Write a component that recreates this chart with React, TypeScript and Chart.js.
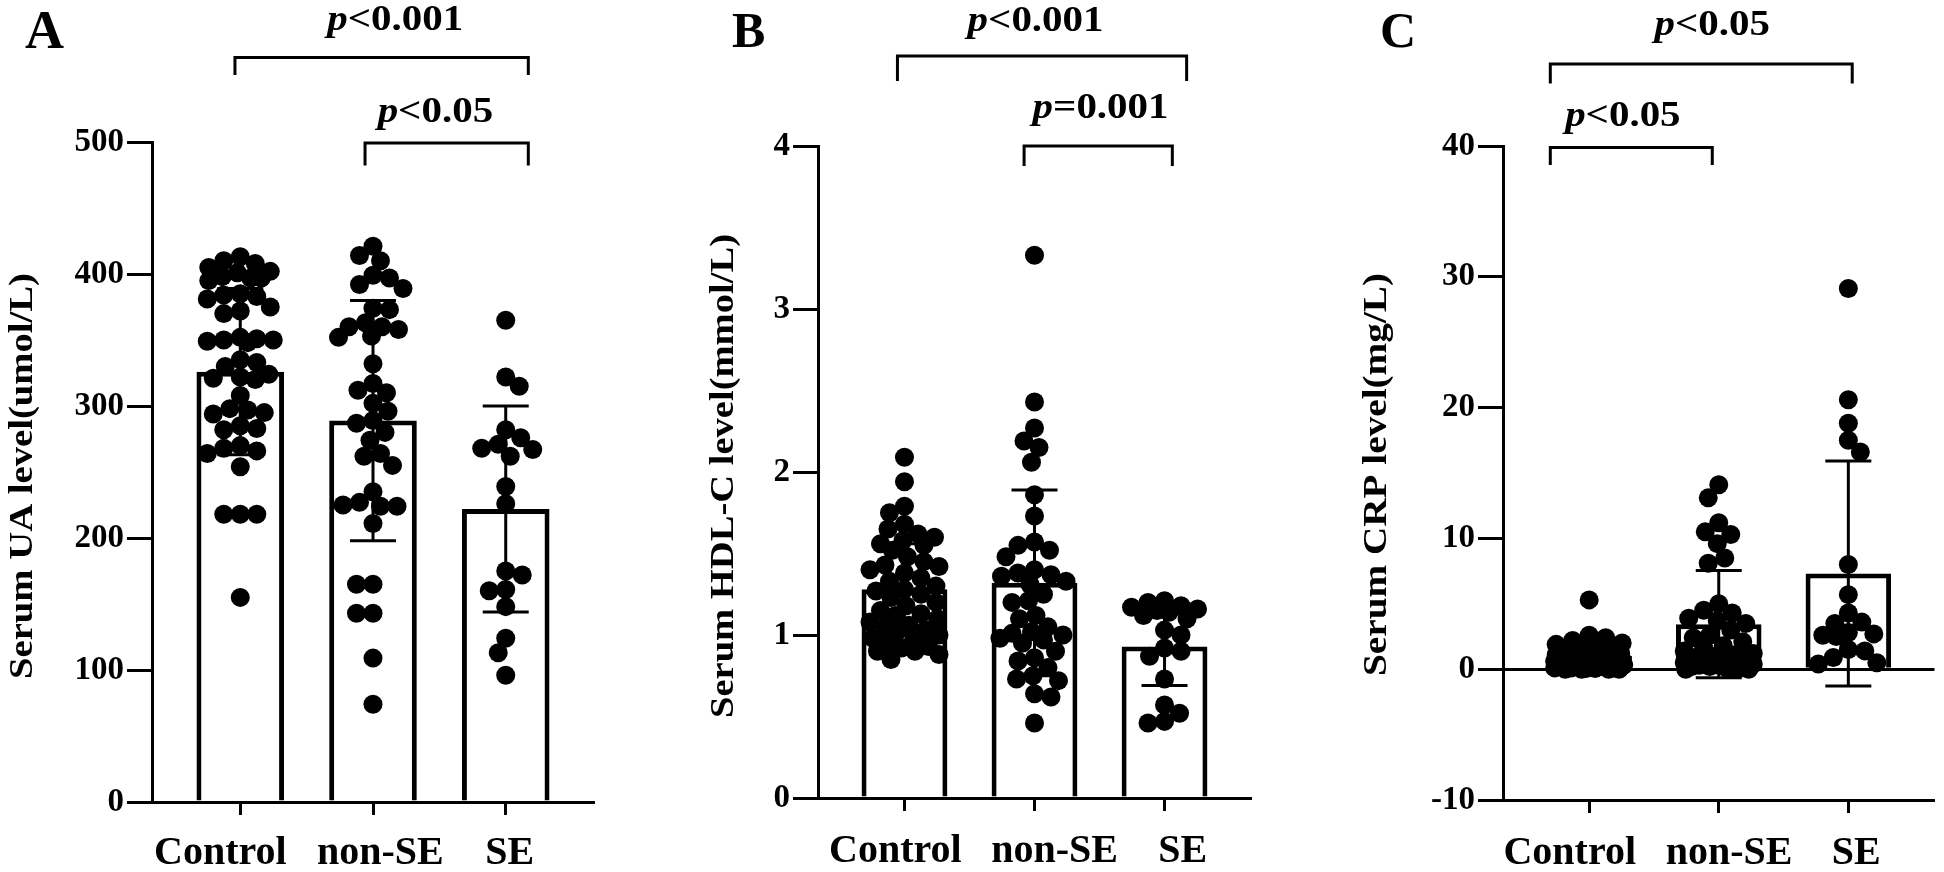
import React, { useEffect, useRef } from 'react';
import { Chart, registerables } from 'chart.js';

Chart.register(...registerables);

const FONT = "'Liberation Serif', 'Times New Roman', serif";

const categories = ['Control', 'non-SE', 'SE'];

// ---------- Panel A : Serum UA ----------
const uaControl = [413, 410, 408, 405, 402, 401, 398, 397, 397, 395, 385, 384, 383, 381, 375, 372, 370, 352, 351, 350, 350, 349, 348, 335, 333, 330, 324, 322, 321, 320, 308, 298, 297, 295, 294, 285, 283, 282, 270, 268, 266, 264, 254, 218, 218, 218, 155];
const uaNonSE = [421, 414, 410, 399, 397, 392, 389, 374, 373, 363, 360, 360, 358, 353, 352, 332, 317, 312, 310, 302, 296, 289, 287, 280, 274, 264, 262, 255, 235, 227, 224, 224, 225, 211, 165, 165, 143, 143, 109, 74];
const uaSE = [365, 322, 315, 282, 276, 271, 268, 267, 262, 239, 226, 175, 172, 161, 160, 148, 124, 113, 96];
const uaMean = [326, 289, 222];
const uaSD = [63, 91, 78];
const uaTicks = [0, 100, 200, 300, 400, 500];
const uaPLabels = ['<0.001', '<0.05'];

// ---------- Panel B : Serum HDL-C ----------
const hdlControl = [2.09, 1.94, 1.79, 1.75, 1.68, 1.65, 1.62, 1.6, 1.58, 1.56, 1.55, 1.52, 1.48, 1.45, 1.43, 1.42, 1.4, 1.38, 1.35, 1.33, 1.3, 1.28, 1.27, 1.25, 1.23, 1.2, 1.18, 1.15, 1.13, 1.12, 1.1, 1.08, 1.06, 1.05, 1.03, 1.02, 1.0, 0.98, 0.97, 0.95, 0.93, 0.92, 0.9, 0.9, 0.88, 0.85];
const hdlNonSE = [3.33, 2.43, 2.27, 2.19, 2.15, 2.06, 1.86, 1.73, 1.57, 1.55, 1.52, 1.48, 1.4, 1.38, 1.37, 1.36, 1.33, 1.31, 1.25, 1.21, 1.2, 1.12, 1.1, 1.05, 1.02, 1.01, 1.0, 0.98, 0.97, 0.95, 0.9, 0.86, 0.84, 0.8, 0.75, 0.73, 0.72, 0.64, 0.62, 0.46];
const hdlSE = [1.21, 1.2, 1.18, 1.17, 1.16, 1.15, 1.14, 1.12, 1.1, 1.03, 1.0, 0.92, 0.9, 0.87, 0.73, 0.57, 0.52, 0.47, 0.46];
const hdlMean = [1.28, 1.32, 0.93];
const hdlSD = [0.28, 0.57, 0.24];
const hdlTicks = [0, 1, 2, 3, 4];
const hdlPLabels = ['<0.001', '=0.001'];

// ---------- Panel C : Serum CRP ----------
const crpControl = [5.3, 2.6, 2.4, 2.2, 2.0, 1.9, 1.8, 1.6, 1.5, 1.4, 1.3, 1.2, 1.2, 1.1, 1.0, 1.0, 0.9, 0.9, 0.8, 0.8, 0.7, 0.7, 0.7, 0.6, 0.6, 0.6, 0.5, 0.5, 0.5, 0.4, 0.4, 0.4, 0.3, 0.3, 0.3, 0.2, 0.2, 0.2, 0.1, 0.1, 0.1, 0.05, 0.05, 0.0, 0.0, 0.0, 0.0];
const crpNonSE = [14.1, 13.1, 11.2, 10.5, 10.3, 9.6, 8.5, 8.1, 5.0, 4.5, 4.3, 3.9, 3.7, 3.5, 3.0, 2.6, 2.4, 2.1, 1.8, 1.6, 1.4, 1.2, 1.1, 1.0, 0.9, 0.8, 0.7, 0.6, 0.5, 0.4, 0.4, 0.3, 0.3, 0.2, 0.2, 0.1, 0.1, 0.0, 0.0, 0.0];
const crpSE = [29.1, 20.6, 18.8, 17.5, 16.6, 8.0, 5.7, 4.3, 3.6, 3.5, 2.8, 2.7, 2.6, 2.5, 1.5, 1.4, 0.9, 0.5, 0.4];
const crpMean = [1.0, 3.44, 7.32];
const crpSD = [1.0, 4.1, 8.6];
const crpTicks = [-10, 0, 10, 20, 30, 40];
const crpPLabels = ['<0.05', '<0.05'];

type Bracket = { from: number; to: number; y: number; drop: number; textX: number; textY: number };

type PanelCfg = {
  letter: string;
  title: string;
  groups: number[][];
  means: number[];
  sds: number[];
  ticks: number[];
  pLabels: string[];
  zeroLine: boolean;
  // layout / style (global pixel coordinates)
  canvasLeft: number;
  canvasWidth: number;
  area: { left: number; right: number; top: number; bottom: number };
  titleX: number;
  titleY: number;
  titleLen: number;
  letterX: number;
  letterY: number;
  letterSize: number;
  catLabelX: number[];
  catLabelY: number;
  brackets: Bracket[];
};

const H = 872;

const panels: PanelCfg[] = [
  {
    letter: 'A',
    title: 'Serum UA level(umol/L)',
    groups: [uaControl, uaNonSE, uaSE],
    means: uaMean,
    sds: uaSD,
    ticks: uaTicks,
    pLabels: uaPLabels,
    zeroLine: false,
    canvasLeft: 0,
    canvasWidth: 648,
    area: { left: 152, right: 594, top: 142, bottom: 802 },
    titleX: 31.5,
    titleY: 476,
    titleLen: 406,
    letterX: 25,
    letterY: 48,
    letterSize: 54,
    catLabelX: [-0.15, 1.055, 2.03],
    catLabelY: 864,
    brackets: [
      { from: -0.04, to: 2.17, y: 564, drop: 550.8, textX: 1.167, textY: 585 },
      { from: 0.94, to: 2.17, y: 499.2, drop: 482.2, textX: 1.47, textY: 515 },
    ],
  },
  {
    letter: 'B',
    title: 'Serum HDL-C level(mmol/L)',
    groups: [hdlControl, hdlNonSE, hdlSE],
    means: hdlMean,
    sds: hdlSD,
    ticks: hdlTicks,
    pLabels: hdlPLabels,
    zeroLine: false,
    canvasLeft: 648,
    canvasWidth: 648,
    area: { left: 818, right: 1251, top: 146, bottom: 798 },
    titleX: 733,
    titleY: 476,
    titleLen: 484,
    letterX: 732,
    letterY: 47,
    letterSize: 50,
    catLabelX: [-0.07, 1.155, 2.14],
    catLabelY: 862,
    brackets: [
      { from: -0.054, to: 2.17, y: 4.552, drop: 4.399, textX: 1.008, textY: 4.706 },
      { from: 0.92, to: 2.06, y: 4.0, drop: 3.877, textX: 1.508, textY: 4.172 },
    ],
  },
  {
    letter: 'C',
    title: 'Serum CRP level(mg/L)',
    groups: [crpControl, crpNonSE, crpSE],
    means: crpMean,
    sds: crpSD,
    ticks: crpTicks,
    pLabels: crpPLabels,
    zeroLine: true,
    canvasLeft: 1296,
    canvasWidth: 648,
    area: { left: 1503, right: 1938, top: 146, bottom: 800 },
    titleX: 1386,
    titleY: 474.5,
    titleLen: 403,
    letterX: 1380,
    letterY: 47,
    letterSize: 50,
    catLabelX: [-0.15, 1.08, 2.06],
    catLabelY: 864,
    brackets: [
      { from: -0.3, to: 2.03, y: 46.27, drop: 44.78, textX: 0.95, textY: 48.49 },
      { from: -0.3, to: 0.95, y: 39.89, drop: 38.55, textX: 0.26, textY: 41.53 },
    ],
  },
];

const decorPlugin = {
  id: 'decor',
  afterDatasetDraw(chart: any, args: any, o: any) {
    if (args.meta.type !== 'bar') return;
    const { ctx } = chart;
    const x = chart.scales.x;
    const y = chart.scales.y;
    ctx.save();
    ctx.strokeStyle = '#000';
    ctx.lineWidth = 3;
    ctx.lineCap = 'butt';
    o.means.forEach((m: number, i: number) => {
      const px = x.getPixelForValue(i);
      const top = y.getPixelForValue(m + o.sds[i]);
      const bot = y.getPixelForValue(m - o.sds[i]);
      const hw = 23;
      ctx.beginPath();
      ctx.moveTo(px, top);
      ctx.lineTo(px, bot);
      ctx.moveTo(px - hw, top);
      ctx.lineTo(px + hw, top);
      ctx.moveTo(px - hw, bot);
      ctx.lineTo(px + hw, bot);
      ctx.stroke();
    });
    ctx.restore();
  },
  afterDraw(chart: any, _args: any, o: any) {
    const { ctx } = chart;
    const x = chart.scales.x;
    const y = chart.scales.y;
    const cl = o.canvasLeft;
    ctx.save();
    ctx.fillStyle = '#000';
    ctx.strokeStyle = '#000';
    ctx.lineWidth = 3;
    ctx.lineJoin = 'miter';
    ctx.lineCap = 'butt';
    const pSize = 35;
    const pStretch = 1.17;
    o.brackets.forEach((b: Bracket, k: number) => {
      const x1 = x.getPixelForValue(b.from);
      const x2 = x.getPixelForValue(b.to);
      const yl = y.getPixelForValue(b.y);
      const yd = y.getPixelForValue(b.drop);
      ctx.beginPath();
      ctx.moveTo(x1, yd);
      ctx.lineTo(x1, yl);
      ctx.lineTo(x2, yl);
      ctx.lineTo(x2, yd);
      ctx.stroke();
      const label = o.pLabels[k];
      const cx = x.getPixelForValue(b.textX);
      const by = y.getPixelForValue(b.textY);
      ctx.font = `italic bold ${pSize}px ${FONT}`;
      const w1 = ctx.measureText('p').width;
      ctx.font = `bold ${pSize}px ${FONT}`;
      const w2 = ctx.measureText(label).width;
      ctx.save();
      ctx.translate(cx - ((w1 + w2) * pStretch) / 2, by);
      ctx.scale(pStretch, 1);
      ctx.textAlign = 'left';
      ctx.textBaseline = 'alphabetic';
      ctx.font = `italic bold ${pSize}px ${FONT}`;
      ctx.fillText('p', 0, 0);
      ctx.font = `bold ${pSize}px ${FONT}`;
      ctx.fillText(label, w1, 0);
      ctx.restore();
    });
    // category labels
    ctx.font = `bold 40px ${FONT}`;
    ctx.textAlign = 'center';
    ctx.textBaseline = 'alphabetic';
    o.categories.forEach((c: string, i: number) => {
      ctx.fillText(c, x.getPixelForValue(o.catLabelX[i]), o.catLabelY);
    });
    // y-axis title
    ctx.save();
    ctx.font = `bold 33px ${FONT}`;
    const tw = ctx.measureText(o.title).width;
    ctx.translate(o.titleX - cl, o.titleY);
    ctx.rotate(-Math.PI / 2);
    ctx.scale(o.titleLen / tw, 1);
    ctx.textAlign = 'center';
    ctx.textBaseline = 'alphabetic';
    ctx.fillText(o.title, 0, 0);
    ctx.restore();
    // panel letter
    ctx.font = `bold ${o.letterSize}px ${FONT}`;
    ctx.textAlign = 'left';
    ctx.textBaseline = 'alphabetic';
    ctx.fillText(o.letter, o.letterX - cl, o.letterY);
    ctx.restore();
  },
};

function swarm(chart: any, groups: number[][]) {
  const xs = chart.scales.x;
  const ys = chart.scales.y;
  const unit = xs.getPixelForValue(1) - xs.getPixelForValue(0);
  const minDist = 16;
  const step = 1.5;
  const maxOff = 35;
  const out: { x: number; y: number }[] = [];
  groups.forEach((vals, gi) => {
    const placed: { dx: number; py: number }[] = [];
    vals.forEach((v, n) => {
      const py = ys.getPixelForValue(v);
      let chosen: number | null = null;
      let best = 0;
      let bestScore = -1;
      const first = n % 2 === 0 ? 1 : -1;
      for (let k = 0; k * step <= maxOff && chosen === null; k++) {
        const signs = k === 0 ? [1] : [first, -first];
        for (const s of signs) {
          const dx = s * k * step;
          let dmin = Infinity;
          for (const p of placed) {
            const d = Math.hypot(p.dx - dx, p.py - py);
            if (d < dmin) dmin = d;
          }
          if (dmin >= minDist) {
            chosen = dx;
            break;
          }
          if (dmin > bestScore + 0.5) {
            bestScore = dmin;
            best = dx;
          }
        }
      }
      const dx = chosen === null ? best : chosen;
      placed.push({ dx, py });
      out.push({ x: gi + dx / unit, y: v });
    });
  });
  return out;
}

function Panel({ cfg }: { cfg: PanelCfg }) {
  const ref = useRef<HTMLCanvasElement>(null);
  useEffect(() => {
    const canvas = ref.current;
    if (!canvas) return;
    const a = cfg.area;
    const initialPoints = cfg.groups.flatMap((vals, gi) => vals.map((v) => ({ x: gi, y: v })));
    const chart = new Chart(canvas, {
      type: 'bar',
      data: {
        datasets: [
          {
            type: 'scatter',
            data: initialPoints,
            pointRadius: 9.5,
            pointHoverRadius: 9.5,
            pointBackgroundColor: '#000',
            pointBorderWidth: 0,
            pointBorderColor: '#000',
          } as any,
          {
            type: 'bar',
            data: cfg.means.map((m, i) => ({ x: i, y: m })),
            backgroundColor: '#fff',
            borderColor: '#000',
            borderWidth: 5,
            borderSkipped: 'start',
            barPercentage: 0.66,
            categoryPercentage: 1,
          } as any,
        ],
      },
      options: {
        responsive: false,
        maintainAspectRatio: false,
        devicePixelRatio: 1,
        animation: false,
        events: [],
        layout: {
          padding: {
            left: 0,
            top: a.top,
            right: cfg.canvasLeft + cfg.canvasWidth - a.right,
            bottom: 0,
          },
        },
        plugins: {
          legend: { display: false },
          tooltip: { enabled: false },
          decor: {
            canvasLeft: cfg.canvasLeft,
            means: cfg.means,
            sds: cfg.sds,
            pLabels: cfg.pLabels,
            brackets: cfg.brackets,
            title: cfg.title,
            titleX: cfg.titleX,
            titleY: cfg.titleY,
            titleLen: cfg.titleLen,
            letter: cfg.letter,
            letterX: cfg.letterX,
            letterY: cfg.letterY,
            letterSize: cfg.letterSize,
            categories,
            catLabelX: cfg.catLabelX,
            catLabelY: cfg.catLabelY,
          },
        } as any,
        scales: {
          x: {
            type: 'linear',
            min: -0.665,
            max: 2.665,
            offset: false,
            afterBuildTicks: (s: any) => {
              s.ticks = categories.map((_, i) => ({ value: i }));
            },
            afterFit: (s: any) => {
              s.height = H - a.bottom;
            },
            ticks: {
              display: false,
              autoSkip: false,
              maxRotation: 0,
              callback: (v: any) => categories[Math.round(Number(v))] ?? '',
            },
            grid: {
              offset: false,
              drawOnChartArea: false,
              drawTicks: true,
              tickLength: 13,
              tickWidth: 3,
              tickColor: '#000',
            },
            border: { display: true, color: '#000', width: 3 },
          },
          y: {
            type: 'linear',
            min: cfg.ticks[0],
            max: cfg.ticks[cfg.ticks.length - 1],
            afterBuildTicks: (s: any) => {
              s.ticks = cfg.ticks.map((v) => ({ value: v }));
            },
            afterFit: (s: any) => {
              s.width = a.left - cfg.canvasLeft;
            },
            ticks: {
              padding: 3,
              color: '#000',
              font: { family: FONT, size: 33, weight: 'bold' },
            },
            grid: {
              offset: false,
              drawOnChartArea: cfg.zeroLine,
              drawTicks: true,
              tickLength: 25,
              tickWidth: 3,
              tickColor: '#000',
              lineWidth: 3,
              color: (c: any) => (c.tick && c.tick.value === 0 ? '#000' : 'rgba(0,0,0,0)'),
            },
            border: { display: true, color: '#000', width: 3 },
          },
        } as any,
      },
      plugins: [decorPlugin as any],
    });
    const pts = swarm(chart, cfg.groups);
    (chart.data.datasets[0] as any).data = pts;
    chart.update('none');
    return () => {
      chart.destroy();
    };
  }, [cfg]);
  return (
    <canvas
      ref={ref}
      width={cfg.canvasWidth}
      height={H}
      style={{ position: 'absolute', left: cfg.canvasLeft, top: 0, width: cfg.canvasWidth, height: H }}
    />
  );
}

export default function App() {
  return (
    <div style={{ position: 'absolute', left: 0, top: 0, width: 1944, height: H, background: '#fff', overflow: 'hidden' }}>
      {panels.map((p) => (
        <Panel key={p.letter} cfg={p} />
      ))}
    </div>
  );
}
